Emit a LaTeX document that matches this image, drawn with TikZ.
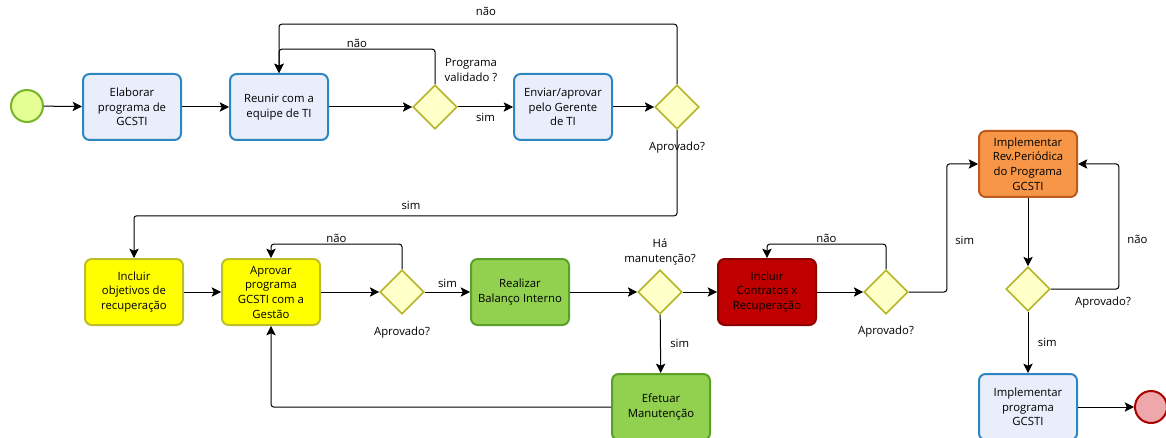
\documentclass[tikz,border=0pt]{standalone}
\usepackage{fontspec}
\setmainfont{Open Sans}
\usepackage{tikz}
\usetikzlibrary{shapes,arrows,arrows.meta,positioning}
\definecolor{taskfill}{RGB}{234,238,252}
\definecolor{taskline}{RGB}{46,134,193}
\definecolor{gatefill}{RGB}{255,255,200}
\definecolor{gateline}{RGB}{180,180,40}
\definecolor{yelfill}{RGB}{255,255,0}
\definecolor{yelline}{RGB}{190,190,40}
\definecolor{grnfill}{RGB}{146,208,80}
\definecolor{grnline}{RGB}{90,160,40}
\definecolor{redfill}{RGB}{192,0,0}
\definecolor{redline}{RGB}{140,0,0}
\definecolor{orgfill}{RGB}{247,150,70}
\definecolor{orgline}{RGB}{190,90,30}
\definecolor{startfill}{RGB}{228,255,150}
\definecolor{startline}{RGB}{120,180,40}
\definecolor{endfill}{RGB}{238,168,172}
\definecolor{endline}{RGB}{170,0,0}
\tikzset{
    task/.style={
            rectangle,
            draw=taskline,
            fill=taskfill,
            line width=1.5pt,
            rounded corners=5pt,
            minimum width=73.5pt,
            minimum height=49.5pt,
            align=center,
            inner sep=1pt,
            font=\fontsize{8.5}{11}\selectfont
        },
    yeltask/.style={
            task,
            draw=yelline,
            fill=yelfill
        },
    grntask/.style={
            task,
            draw=grnline,
            fill=grnfill
        },
    redtask/.style={
            task,
            draw=redline,
            fill=redfill
        },
    orgtask/.style={
            task,
            draw=orgline,
            fill=orgfill
        },
    gate/.style={
            diamond,
            draw=gateline,
            fill=gatefill,
            line width=1.2pt,
            minimum width=33pt,
            minimum height=33pt,
            inner sep=0pt
        },
    event/.style={
            circle,
            line width=1.5pt,
            minimum size=24pt,
            inner sep=0pt
        },
    descr/.style={
            align=center,
            inner sep=1pt,
            font=\fontsize{8.5}{11}\selectfont
        },
    connector/.style={
            -{Stealth[length=7pt,width=7pt,inset=1.5pt]},
            line width=0.75pt,
            rounded corners=2pt
        }
}

\begin{document}
\begin{tikzpicture}[x=0.75pt,y=0.75pt]
  \useasboundingbox (0,0) rectangle (1166,-438);
  % top row
  \node[event,draw=startline,fill=startfill] (start) at (27,-106) {};
  \node[task] (elaborar) at (132,-107) {Elaborar\\programa de\\GCSTI};
  \node[task] (reunir) at (279,-107) {Reunir com a\\equipe de TI};
  \node[gate] (validado) at (435,-107) {};
  \node[task] (enviar) at (563,-107) {Enviar/aprovar\\pelo Gerente\\de TI};
  \node[gate] (aprovGer) at (677,-107) {};
  % middle row
  \node[yeltask] (objetivos) at (134,-292) {Incluir\\objetivos de\\recuperação};
  \node[yeltask] (aprovGest) at (271,-292) {Aprovar\\programa\\GCSTI com a\\Gestão};
  \node[gate] (aprovGestGate) at (402,-292) {};
  \node[grntask] (balanco) at (520,-292) {Realizar\\Balanço Interno};
  \node[gate] (manut) at (660,-292) {};
  \node[redtask] (contratos) at (767,-292) {Incluir\\Contratos x\\Recuperação};
  \node[gate] (aprovContr) at (886,-292) {};
  \node[orgtask] (revisao) at (1028,-164) {Implementar\\Rev.Periódica\\do Programa\\GCSTI};
  \node[gate] (aprovRev) at (1028,-289) {};
  % bottom row
  \node[grntask] (efetuar) at (661,-407) {Efetuar\\Manutenção};
  \node[task] (implementar) at (1028,-407) {Implementar\\programa\\GCSTI};
  \node[event,draw=endline,fill=endfill] (fim) at (1151,-407) {};

  % labels
  \node[descr] (lblValidado) at (471,-70) {Programa\\validado ?};
  \node[descr] (lblAprov1) at (677,-148) {Aprovado?};
  \node[descr] (lblAprov2) at (402,-333) {Aprovado?};
  \node[descr] (lblManut) at (660,-252) {Há\\manutenção?};
  \node[descr] (lblAprov3) at (886,-332) {Aprovado?};
  \node[descr] (lblAprov4) at (1103,-303) {Aprovado?};

  % connectors
  \draw[connector] (start) -- (elaborar);
  \draw[connector] (elaborar) -- (reunir);
  \draw[connector] (reunir) -- (validado);
  \draw[connector] (validado) -- node[descr,below=3pt] {sim} (enviar);
  \draw[connector] (validado.north) -- ++(0,35) -- node[descr,above] {não} ++(-156,0) -- (reunir.north);
  \draw[connector] (enviar) -- (aprovGer);
  \draw[connector] (aprovGer.north) -- ++(0,60) -- node[descr,above=5pt,pos=0.48] {não} ++(-398,0) -- (reunir.north);
  \draw[connector] (aprovGer.south) -- ++(0,-86) -- node[descr,above=3pt,pos=0.49] {sim} ++(-543,0) -- (objetivos.north);
  \draw[connector] (objetivos) -- (aprovGest);
  \draw[connector] (aprovGest) -- (aprovGestGate);
  \draw[connector] (aprovGestGate.north) -- ++(0,25) -- node[descr,above] {não} ++(-131,0) -- (aprovGest.north);
  \draw[connector] (aprovGestGate) -- node[descr,above=2pt] {sim} (balanco);
  \draw[connector] (balanco) -- (manut);
  \draw[connector] (manut) -- (contratos);
  \draw[connector] (manut) -- node[descr,right=6pt] {sim} (efetuar);
  \draw[connector] (efetuar.west) -| (aprovGest.south);
  \draw[connector] (contratos) -- (aprovContr);
  \draw[connector] (aprovContr.north) -- ++(0,25) -- node[descr,above] {não} ++(-119,0) -- (contratos.north);
  \draw[connector] (aprovContr.east) -- ++(38,0) |- node[descr,right=5pt,pos=0.2] {sim} (revisao.west);
  \draw[connector] (revisao) -- (aprovRev);
  \draw[connector] (aprovRev.east) -- ++(68,0) |- node[descr,right=5pt,pos=0.2] {não} (revisao.east);
  \draw[connector] (aprovRev) -- node[descr,right=6pt] {sim} (implementar);
  \draw[connector] (implementar) -- (fim);
\end{tikzpicture}
\end{document}
